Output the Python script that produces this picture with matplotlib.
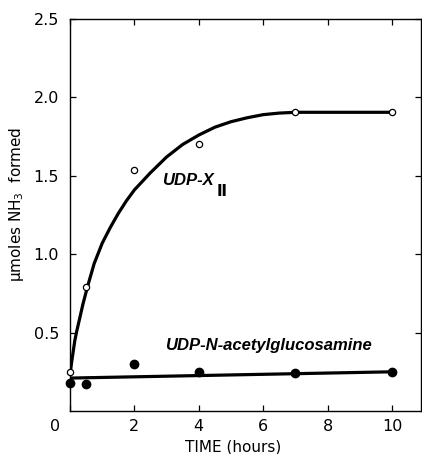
import matplotlib
matplotlib.use('Agg')
import matplotlib.pyplot as plt
from matplotlib.transforms import ScaledTranslation

# measured points
t_x2 = [0, 0.5, 2, 4, 7, 10]
y_x2 = [0.25, 0.79, 1.54, 1.70, 1.91, 1.91]

t_nag = [0, 0.5, 2, 4, 7, 10]
y_nag = [0.18, 0.17, 0.30, 0.25, 0.24, 0.25]

# hand-drawn curves
curve_t = [0, 0.05, 0.1, 0.15, 0.21, 0.3, 0.4, 0.54, 0.75, 1.0, 1.25, 1.5, 1.75, 2.0,
           2.5, 3.0, 3.5, 4.0, 4.5, 5.0, 5.5, 6.0, 6.5, 7.0, 10.0]
curve_y = [0.23, 0.31, 0.38, 0.45, 0.51, 0.59, 0.68, 0.79, 0.94, 1.07, 1.17, 1.26, 1.34, 1.41,
           1.52, 1.62, 1.70, 1.76, 1.81, 1.845, 1.87, 1.89, 1.90, 1.905, 1.905]
line_t = [0, 10]
line_y = [0.21, 0.25]

xticks = [0, 2, 4, 6, 8, 10]
yticks = [0.5, 1.0, 1.5, 2.0, 2.5]

fig = plt.figure(figsize=(4.22, 4.54), dpi=100)
ax = fig.add_axes([70/422, 1 - 411/454, 351/422, 392/454])

ax.plot(curve_t, curve_y, color='black', lw=2.3, solid_capstyle='round',
        solid_joinstyle='round', zorder=2)
ax.plot(line_t, line_y, color='black', lw=2.3, zorder=2)
ax.plot(t_x2, y_x2, 'o', ms=4.5, mfc='white', mec='black', mew=0.9, zorder=3, clip_on=False)
ax.plot(t_nag, y_nag, 'o', ms=6, color='black', zorder=3, clip_on=False)

ax.set_xlim(0, 10.9)
ax.set_ylim(0, 2.5)
ax.set_xticks(xticks)
ax.set_yticks(yticks)
ax.set_xticklabels([str(v) for v in xticks])
ax.set_yticklabels(['0.5', '1.0', '1.5', '2.0', '2.5'])

ax.tick_params(direction='in', length=4, width=0.9, labelsize=11.5,
               top=True, right=True, pad=6)
ax.tick_params(axis='y', pad=8)
for s in ax.spines.values():
    s.set_linewidth(1.0)

# origin label sits left of the corner
lbl = ax.get_xticklabels()[0]
lbl.set_transform(lbl.get_transform() + ScaledTranslation(-0.15, 0, fig.dpi_scale_trans))

ax.set_xlabel('TIME (hours)', fontsize=11, va='center')
ax.xaxis.set_label_coords(0.464, -0.092)
ax.set_ylabel('μmoles NH$_3$  formed', fontsize=11, va='center')
ax.yaxis.set_label_coords(-0.151, 0.528)

ax.text(2.85, 1.47, 'UDP-X', fontsize=12, fontweight='bold', style='italic',
        family='Liberation Sans', va='center')
ax.text(4.55, 1.40, 'Ⅱ', fontsize=11, fontweight='bold', family='DejaVu Sans', va='center')
ax.text(2.95, 0.42, 'UDP-N-acetylglucosamine', fontsize=12, fontweight='bold',
        style='italic', family='Liberation Sans', va='center')

fig.savefig('out.png', dpi=100)
